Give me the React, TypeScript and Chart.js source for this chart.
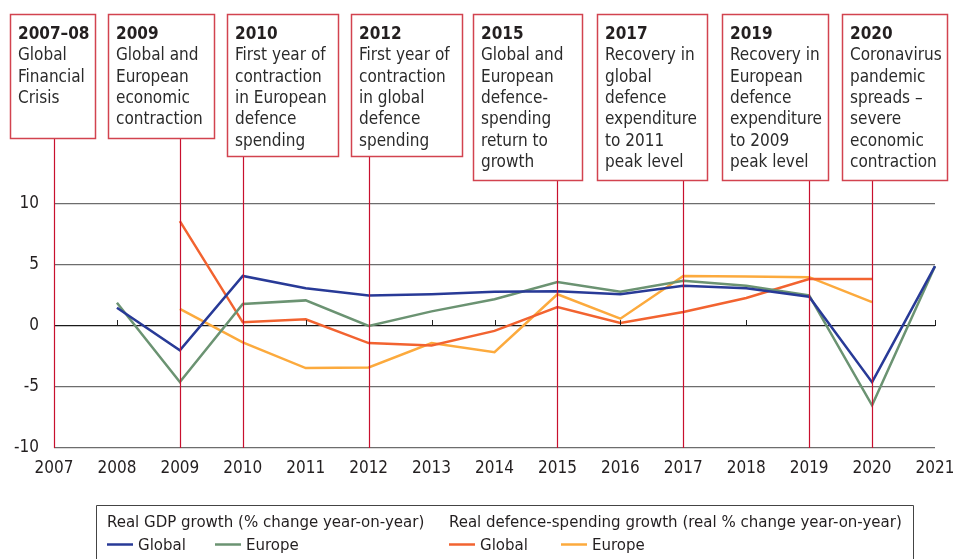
import React, { useEffect, useRef } from 'react';
import { Chart, registerables } from 'chart.js';

Chart.register(...registerables);

const FONT = '"Liberation Sans Narrow", "DejaVu Sans Condensed", "Arial Narrow", sans-serif';

const years = ['2007', '2008', '2009', '2010', '2011', '2012', '2013', '2014', '2015', '2016', '2017', '2018', '2019', '2020', '2021'];
const gdpGlobal = [null, 1.5, -2.0, 4.1, 3.1, 2.5, 2.6, 2.8, 2.85, 2.6, 3.3, 3.1, 2.4, -4.6, 4.9];
const gdpEurope = [null, 1.9, -4.6, 1.8, 2.1, 0.0, 1.2, 2.2, 3.6, 2.8, 3.7, 3.3, 2.5, -6.5, 4.9];
const defenceGlobal = [null, null, 8.6, 0.3, 0.55, -1.4, -1.6, -0.4, 1.55, 0.25, 1.15, 2.3, 3.85, 3.85, null];
const defenceEurope = [null, null, 1.4, -1.35, -3.45, -3.4, -1.4, -2.15, 2.6, 0.6, 4.1, 4.05, 4.0, 1.95, null];

const yMin = -10;
const yMax = 10;
const yStep = 5;

const eventYears = ['2007', '2009', '2010', '2012', '2015', '2017', '2019', '2020'];
const eventTitles = ['2007–08', '2009', '2010', '2012', '2015', '2017', '2019', '2020'];
const eventTexts = [
  ['Global', 'Financial', 'Crisis'],
  ['Global and', 'European', 'economic', 'contraction'],
  ['First year of', 'contraction', 'in European', 'defence', 'spending'],
  ['First year of', 'contraction', 'in global', 'defence', 'spending'],
  ['Global and', 'European', 'defence-', 'spending', 'return to', 'growth'],
  ['Recovery in', 'global', 'defence', 'expenditure', 'to 2011', 'peak level'],
  ['Recovery in', 'European', 'defence', 'expenditure', 'to 2009', 'peak level'],
  ['Coronavirus', 'pandemic', 'spreads –', 'severe', 'economic', 'contraction'],
];

const groupTitles = ['Real GDP growth (% change year-on-year)', 'Real defence-spending growth (real % change year-on-year)'];
const seriesNames = ['Global', 'Europe', 'Global', 'Europe'];

// layout (pixels) for annotation boxes: [left, right, bottom]
const BOX_LAYOUT = [
  [10, 95, 138],
  [108, 214, 138],
  [227, 338, 156],
  [351, 462, 156],
  [473, 582, 180],
  [597, 707, 180],
  [722, 828, 180],
  [842, 947, 180],
];
const BOX_TOP = 14;
const RED = '#c8102e';
const BOX_RED = '#d2434f';
const TEXT = '#231f20';
const COLORS = ['#283a97', '#6b9372', '#f26330', '#fcaa3d'];

const overlayPlugin = {
  id: 'overlay',
  afterDatasetsDraw(chart: any) {
    const { ctx, chartArea, scales } = chart;
    const xs = scales.x;
    const ys = scales.y;
    ctx.save();
    // tick marks on the zero line
    const y0 = ys.getPixelForValue(0);
    ctx.strokeStyle = '#222';
    ctx.lineWidth = 1;
    years.forEach((_, i) => {
      const px = Math.round(xs.getPixelForValue(i)) + 0.5;
      ctx.beginPath();
      ctx.moveTo(px, y0);
      ctx.lineTo(px, y0 - 6);
      ctx.stroke();
    });
    // red event lines
    ctx.strokeStyle = RED;
    ctx.lineWidth = 1.2;
    eventYears.forEach((yr, i) => {
      const idx = years.indexOf(yr);
      const px = Math.round(xs.getPixelForValue(idx)) + 0.5;
      ctx.beginPath();
      ctx.moveTo(px, BOX_LAYOUT[i][2]);
      ctx.lineTo(px, chartArea.bottom);
      ctx.stroke();
    });
    // boxes
    eventTitles.forEach((title, i) => {
      const [l, r, b] = BOX_LAYOUT[i];
      ctx.fillStyle = '#ffffff';
      ctx.fillRect(l, BOX_TOP, r - l, b - BOX_TOP);
      ctx.strokeStyle = BOX_RED;
      ctx.lineWidth = 1.5;
      ctx.strokeRect(l + 0.5, BOX_TOP + 0.5, r - l, b - BOX_TOP);
      ctx.fillStyle = TEXT;
      ctx.textAlign = 'left';
      ctx.textBaseline = 'alphabetic';
      ctx.font = `bold 17px ${FONT}`;
      ctx.fillText(title, l + 8, 39);
      ctx.font = `17px ${FONT}`;
      ctx.fillStyle = '#2b2b2b';
      eventTexts[i].forEach((line, j) => {
        ctx.fillText(line, l + 8, 39 + 21.3 * (j + 1));
      });
    });
    // legend
    ctx.strokeStyle = '#444';
    ctx.lineWidth = 1;
    ctx.beginPath();
    ctx.moveTo(96.5, 570);
    ctx.lineTo(96.5, 505.5);
    ctx.lineTo(913.5, 505.5);
    ctx.lineTo(913.5, 570);
    ctx.stroke();
    ctx.font = `16.7px ${FONT}`;
    ctx.fillStyle = TEXT;
    ctx.fillText(groupTitles[0], 107, 527);
    ctx.fillText(groupTitles[1], 449, 527);
    const itemX = [107, 215, 449, 561];
    seriesNames.forEach((name, i) => {
      const x = itemX[i];
      ctx.strokeStyle = COLORS[i];
      ctx.lineWidth = 2.5;
      ctx.beginPath();
      ctx.moveTo(x, 544.5);
      ctx.lineTo(x + 26, 544.5);
      ctx.stroke();
      ctx.fillStyle = TEXT;
      ctx.fillText(name, x + 31, 550);
    });
    ctx.restore();
  },
};

export default function App() {
  const ref = useRef<HTMLCanvasElement>(null);
  useEffect(() => {
    if (!ref.current) return;
    const mk = (data: (number | null)[], i: number, label: string) => ({
      label,
      data,
      borderColor: COLORS[i],
      backgroundColor: COLORS[i],
      borderWidth: 2.5,
      pointRadius: 0,
      tension: 0,
      spanGaps: false,
    });
    const chart = new Chart(ref.current, {
      type: 'line',
      data: {
        labels: years,
        datasets: [
          mk(gdpGlobal, 0, 'GDP Global'),
          mk(gdpEurope, 1, 'GDP Europe'),
          mk(defenceGlobal, 2, 'Defence Global'),
          mk(defenceEurope, 3, 'Defence Europe'),
        ],
      },
      options: {
        animation: false,
        responsive: true,
        maintainAspectRatio: false,
        layout: { padding: { left: 0, top: 204, right: 18, bottom: 0 } },
        plugins: { legend: { display: false }, tooltip: { enabled: false } },
        scales: {
          x: {
            offset: false,
            grid: { display: false, drawTicks: false },
            border: { display: false },
            ticks: { color: TEXT, font: { family: FONT, size: 17 }, padding: 10, maxRotation: 0, autoSkip: false },
            afterFit: (s: any) => { s.height = 111; s.paddingLeft = 0; s.paddingRight = 0; },
          },
          y: {
            min: yMin,
            max: yMax,
            grid: {
              drawTicks: false,
              color: (c: any) => (c.tick && c.tick.value === 0 ? '#1a1a1a' : '#6d6d6d'),
              lineWidth: 1.3,
            },
            border: { display: false },
            ticks: { stepSize: yStep, color: TEXT, font: { family: FONT, size: 17 }, padding: 15 },
            afterFit: (s: any) => { s.width = 54; s.paddingTop = 0; s.paddingBottom = 0; },
          },
        },
      },
      plugins: [overlayPlugin],
    });
    return () => chart.destroy();
  }, []);
  return (
    <div style={{ position: 'absolute', left: 0, top: 0, width: 953, height: 559, background: '#fff' }}>
      <canvas ref={ref} />
    </div>
  );
}
